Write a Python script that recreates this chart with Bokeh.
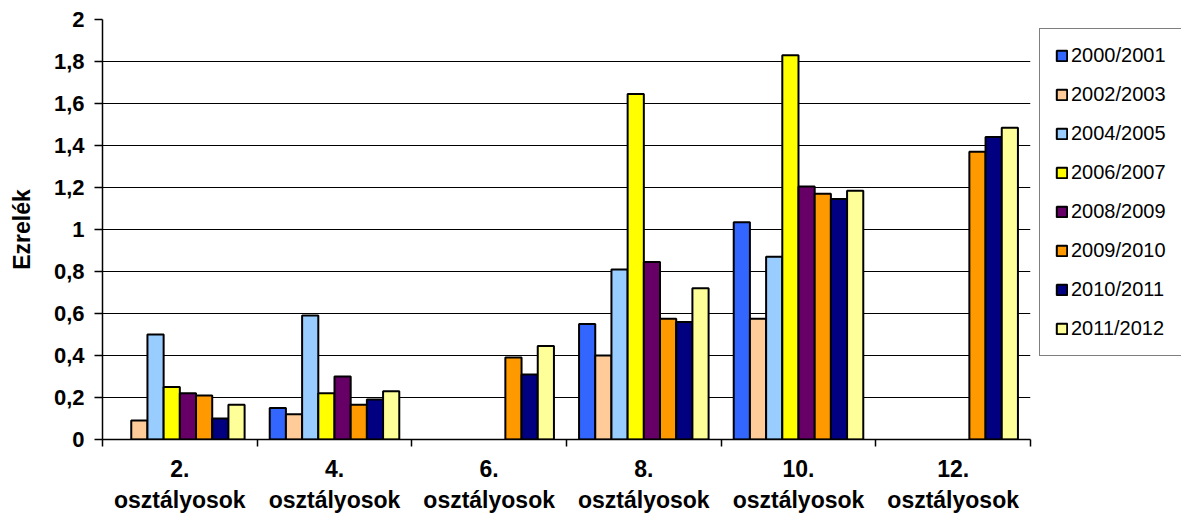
import math
from bokeh.plotting import figure
from bokeh.models import (ColumnDataSource, Range1d, FixedTicker, CustomJSTickFormatter,
                          Legend, LegendItem)
from bokeh.transform import dodge
from bokeh.embed import file_html
from bokeh.resources import INLINE

nan = float("nan")

categories = ["2.\nosztályosok", "4.\nosztályosok", "6.\nosztályosok",
              "8.\nosztályosok", "10.\nosztályosok", "12.\nosztályosok"]

series_names = ["2000/2001", "2002/2003", "2004/2005", "2006/2007",
                "2008/2009", "2009/2010", "2010/2011", "2011/2012"]

s2000_2001 = [nan, 0.15, nan, 0.55, 1.035, nan]
s2002_2003 = [0.09, 0.12, nan, 0.40, 0.575, nan]
s2004_2005 = [0.50, 0.59, nan, 0.81, 0.87, nan]
s2006_2007 = [0.25, 0.22, nan, 1.645, 1.83, nan]
s2008_2009 = [0.22, 0.30, nan, 0.845, 1.205, nan]
s2009_2010 = [0.21, 0.165, 0.39, 0.575, 1.17, 1.37]
s2010_2011 = [0.10, 0.19, 0.31, 0.56, 1.145, 1.44]
s2011_2012 = [0.165, 0.23, 0.445, 0.72, 1.185, 1.485]

series_values = [s2000_2001, s2002_2003, s2004_2005, s2006_2007,
                 s2008_2009, s2009_2010, s2010_2011, s2011_2012]

colors = ["#3366FF", "#FFCC99", "#99CCFF", "#FFFF00",
          "#660066", "#FF9900", "#000080", "#FFFF99"]

y_ticks = [0, 0.2, 0.4, 0.6, 0.8, 1.0, 1.2, 1.4, 1.6, 1.8, 2.0]

FONT = "Liberation Sans"

p = figure(frame_width=928, frame_height=420, output_backend="svg", toolbar_location=None,
           x_range=Range1d(0, len(categories)), y_range=Range1d(0, 2),
           min_border_left=102, min_border_right=150, min_border_top=19,
           min_border_bottom=76)
p.outline_line_color = None
p.background_fill_color = "white"
p.border_fill_color = "white"

centers = [i + 0.5 for i in range(len(categories))]
data = {"x": centers}
for name, vals in zip(series_names, series_values):
    data[name] = vals
src = ColumnDataSource(data)

bw = 0.1047
n = len(series_names)
renderers = []
for i, (name, col) in enumerate(zip(series_names, colors)):
    off = (i - (n - 1) / 2) * bw
    r = p.vbar(x=dodge("x", off), top=name, width=bw, source=src,
               fill_color=col, line_color="black", line_width=2)
    renderers.append(r)

# Y axis
p.yaxis.ticker = FixedTicker(ticks=y_ticks)
p.yaxis.formatter = CustomJSTickFormatter(code="""
    var s = tick.toFixed(1).replace('.', ',');
    if (s.endsWith(',0')) { s = s.slice(0, -2); }
    return s;
""")
p.yaxis.major_label_text_font = FONT
p.yaxis.major_label_text_font_style = "bold"
p.yaxis.major_label_text_font_size = "22px"
p.yaxis.major_label_text_color = "black"
p.yaxis.major_tick_out = 8
p.yaxis.major_tick_in = 0
p.yaxis.minor_tick_line_color = None
p.yaxis.major_label_standoff = 10
p.yaxis.axis_line_width = 1.5
p.yaxis.axis_line_color = "black"
p.yaxis.major_tick_line_color = "black"
p.yaxis.major_tick_line_width = 1.5
p.yaxis.axis_label = "Ezrelék"
p.yaxis.axis_label_text_font = FONT
p.yaxis.axis_label_text_font_style = "bold"
p.yaxis.axis_label_text_font_size = "23px"
p.yaxis.axis_label_text_color = "black"
p.yaxis.axis_label_standoff = 16

# X axis: labels at centers, tick marks at boundaries (minor ticks)
p.xaxis.ticker = FixedTicker(ticks=centers, minor_ticks=list(range(len(categories) + 1)))
p.xaxis.major_label_overrides = {c: lab for c, lab in zip(centers, categories)}
p.xaxis.major_tick_line_color = None
p.xaxis.minor_tick_line_color = "black"
p.xaxis.minor_tick_line_width = 1.5
p.xaxis.minor_tick_out = 7
p.xaxis.minor_tick_in = 0
p.xaxis.axis_line_width = 1.5
p.xaxis.axis_line_color = "black"
p.xaxis.major_label_text_font = FONT
p.xaxis.major_label_text_font_style = "bold"
p.xaxis.major_label_text_font_size = "23px"
p.xaxis.major_label_text_color = "black"
p.xaxis.major_label_standoff = 9

p.xgrid.grid_line_color = None
p.ygrid.ticker = FixedTicker(ticks=y_ticks)
p.ygrid.grid_line_color = "black"
p.ygrid.grid_line_width = 1.2

legend = Legend(items=[LegendItem(label=nm, renderers=[r]) for nm, r in zip(series_names, renderers)],
                location="top_left")
legend.label_text_font = FONT
legend.label_text_font_size = "20px"
legend.label_text_color = "black"
legend.glyph_width = 13
legend.glyph_height = 13
legend.label_height = 20
legend.spacing = 16
legend.padding = 15
legend.margin = 9
legend.label_standoff = 3
legend.border_line_color = "black"
legend.border_line_width = 1.5
legend.background_fill_color = "white"
legend.background_fill_alpha = 1
p.add_layout(legend, "right")

open("out.html", "w").write(file_html(p, INLINE))
